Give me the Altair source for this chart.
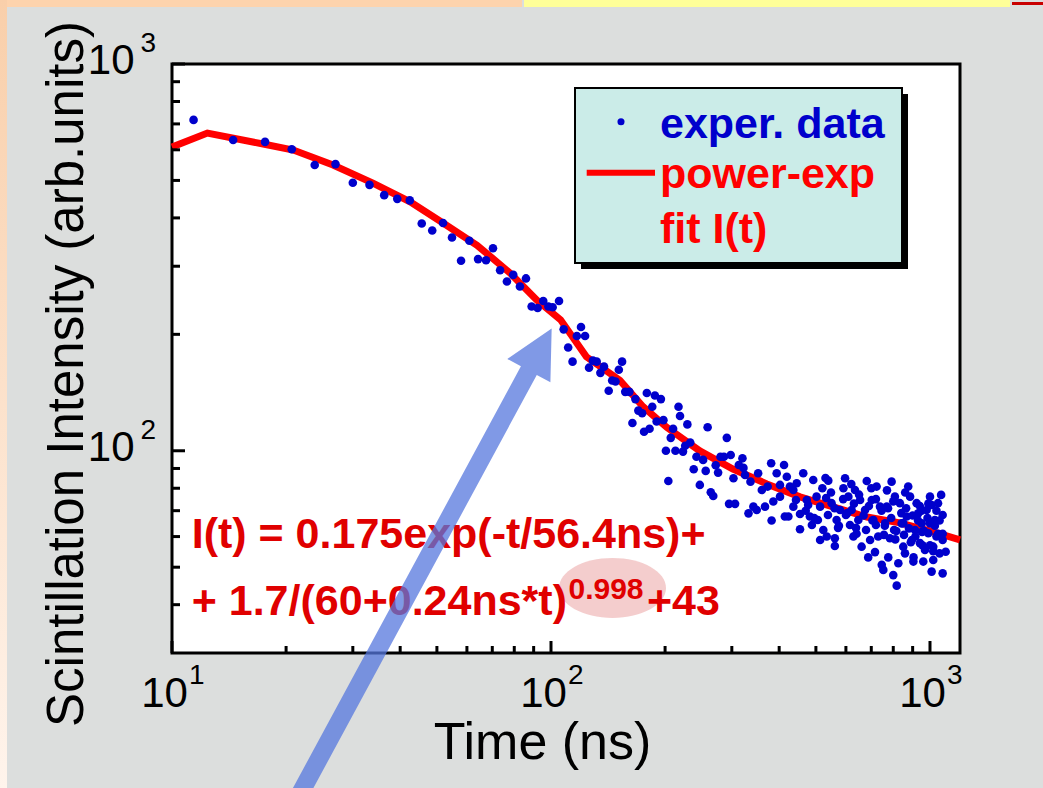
import altair as alt
import pandas as pd

FONT = "Arial, Liberation Sans, sans-serif"

# ---- experimental data: time (ns) and scintillation intensity (arb. units)
TIME = [11.4,14.5,17.6,20.7,23.8,27,30,33.2,36.3,39.3,
        42.4,45.6,48.6,51.9,54.8,57.9,60.9,64.2,67.4,70.3,
        73.4,76.5,79.5,82.8,85.9,88.9,92.2,95.4,98.4,101,
        105,108,111,114,117,120,123,126,129,132,
        135,138,142,145,148,151,154,157,161,164,
        167,170,174,176,179,182,185,188,190,195,
        198,201,204,207,210,213,
        217,219,223,226,229,233,238,242,247,252,
        256,259,264,268,272,276,280,286,291,295,
        298,303,306,313,320,325,332,336,342,349,
        352,360,367,373,381,386,394,402,412,419,
        427,436,445,322,382,414,423,402,436,454,
        454,463,473,482,492,502,513,513,523,534,
        539,550,561,561,567,579,591,597,609,621,
        628,634,647,654,660,674,681,687,702,709,
        716,723,738,746,753,761,769,776,784,792,
        800,808,817,825,833,842,850,859,868,876,
        886,904,913,922,931,941,951,960,970,980,
        990,1000,1010,1020,1030,1040,1050,1060,1070,1080,
        1100,1080,1020,1000,477,506,538,572,600,638,
        678,720,756,804,854,896,953,1010,1080,695,
        615,532,488,443,
        520,548,560,590,605,630,650,668,690,705,
        720,745,760,775,790,800,815,840,850,865,
        880,900,915,930,950,965,985,1000,1030,1050,
        470,495,530,575,620,640,700,730,770,810,
        860,890,940,990,1040,1060,1080,1020,955,905]
INTENSITY = [717,636,629,602,548,551,493,487,458,448,
             444,387,371,388,356,310,349,313,311,334,
             293,274,285,266,279,236,234,244,236,235,
             244,206,185,170,198,209,198,164,171,170,
             159,165,143,152,151,162,170,142,142,118,
             136,127,125,112,141,114,130,139,119,136,
             120,100,83.5,108,114,100,130,123,99.5,103,
             117,105,89.6,96.5,81.6,94.7,88.7,115,
             78.1,76.4,91.7,87.8,96.5,96.5,108,72.9,97.5,84.9,
             72.9,91.9,95.6,86.6,68.9,83.2,71.7,70.3,87.5,79.2,
             71.7,80.8,92.8,73.9,87.5,81.6,91.9,85.7,80.8,71.7,
             82.4,90.3,66,67.6,67.6,76.1,79.2,68.6,62.7,87.5,
             74.6,67.6,84,76.1,71.7,58.8,62.4,60,83.7,73.2,
             59.4,56.7,66.2,70.3,80,84.9,76.1,70.3,60,79.2,
             66.2,74.6,56.5,70.3,83.5,53,74.6,66.2,54.7,80.8,
             71.7,50.7,49.2,64.9,71.7,53,59.4,83.2,47.7,76.1,
             44.8,51.2,73.2,64.9,56.5,54.3,67.6,80.8,76.1,51.7,
             62.4,73.2,68.9,57.7,64.9,51.7,55.4,70.3,61.2,76.1,
             48.7,56.5,66.2,60,73.2,54.3,76.9,48.2,54.8,58.8,
             52.2,64.9,72.4,66.2,68.2,63.2,68.2,63.2,62.4,64.3,
             60.6,62.4,60.6,58.8,61.7,72.4,68.2,58.8,64.3,75.5,
             64.3,74.6,
             80,78,71,75,69,73,77,68,72,66,
             75,70,64,71,67,74,62,69,65,71,
             63,68,60,66,70,62,67,57,64,61,
             70,67,85,64,82,61,80,60,79,59,
             78,58,72,73,70,66,61,55,57,53]

# ---- power-exp fit curve I(t)
FIT_TIME = [10,12.4,17.4,20.9,26.6,33.9,42.5,51.9,63.8,78,91.8,106,124,152,175,202,247,302,371,454,555,682,833,1020,1200]
FIT_I = [610,663,621,599,548,492,440,388,340,288,245,218,175,152,130,115,99.9,89.7,82.1,76,71.6,67.4,65.1,61.7,58.8]

# ---- axis ticks: labels are "10" with a superscript exponent
X_MAJOR = [10, 100, 1000]
X_SUPS = ["1", "2", "3"]
X_MINOR = [20, 30, 40, 50, 60, 70, 80, 90, 200, 300, 400, 500, 600, 700, 800, 900]
Y_MAJOR = [100, 1000]
Y_SUPS = ["2", "3"]
Y_MINOR = [40, 50, 60, 70, 80, 90, 200, 300, 400, 500, 600, 700, 800, 900]

W, H = 788, 589

xs = alt.Scale(type="log", domain=[10, 1200], nice=False)
ys = alt.Scale(type="log", domain=[30, 1000], nice=False)

pts = pd.DataFrame({"t": TIME, "I": INTENSITY})
fit = pd.DataFrame({"t": FIT_TIME, "I": FIT_I})
one = pd.DataFrame({"k": [0]})

x_axis = alt.Axis(values=X_MAJOR, labelExpr="'10'", title="Time (ns)",
                  grid=False, domain=False, ticks=False, tickSize=0, labelFont=FONT, labelFontSize=42,
                  labelColor="black", labelBaseline="alphabetic", labelPadding=53.5, labelOffset=-8,
                  labelFlush=False, labelOverlap=False, titleFont=FONT, titleFontSize=52,
                  titleFontWeight="normal", titleColor="black", titleX=370, titleY=105,
                  titleAlign="center", titleBaseline="alphabetic")
y_axis = alt.Axis(values=Y_MAJOR, labelExpr="'10'",
                  title="Scintillation Intensity (arb.units)", grid=False, domain=False, ticks=False,
                  tickSize=0, labelFont=FONT, labelFontSize=42, labelColor="black", labelAlign="right",
                  labelBaseline="alphabetic", labelPadding=38, labelOffset=9.5, labelFlush=False,
                  labelOverlap=False, titleFont=FONT, titleFontSize=51, titleFontWeight="normal",
                  titleColor="black", titleAngle=270, titleX=-90, titleY=309.5, titleAlign="center",
                  titleBaseline="alphabetic")


def X(field):
    return alt.X(field, scale=xs, axis=x_axis)


def Y(field):
    return alt.Y(field, scale=ys, axis=y_axis)


fit_line = alt.Chart(fit).mark_line(color="#ff0000", strokeWidth=7).encode(x=X("t:Q"), y=Y("I:Q"))
points = alt.Chart(pts).mark_circle(size=74, color="#0000cc", opacity=1).encode(x=X("t:Q"), y=Y("I:Q"))

x_sup = alt.Chart(pd.DataFrame({"t": X_MAJOR, "sup": X_SUPS})).mark_text(
    font=FONT, fontSize=28, color="black", align="left", baseline="alphabetic", dx=17).encode(
    x=X("t:Q"), y=alt.value(H + 31), text="sup:N")
y_sup = alt.Chart(pd.DataFrame({"I": Y_MAJOR, "sup": Y_SUPS})).mark_text(
    font=FONT, fontSize=28, color="black", align="right", baseline="alphabetic", dy=-12).encode(
    y=Y("I:Q"), x=alt.value(-16), text="sup:N")


def xticks(vals, length):
    return alt.Chart(pd.DataFrame({"t": vals})).mark_rule(color="black", strokeWidth=3).encode(
        x=X("t:Q"), y=alt.value(H), y2=alt.value(H - length))


def yticks(vals, length):
    return alt.Chart(pd.DataFrame({"I": vals})).mark_rule(color="black", strokeWidth=3).encode(
        y=Y("I:Q"), x=alt.value(0), x2=alt.value(length))


def box(x1, x2, y1, y2, **kw):
    return alt.Chart(one).mark_rect(**kw).encode(
        x=alt.value(x1), x2=alt.value(x2), y=alt.value(y1), y2=alt.value(y2))


def text(s, x, y, size, color, align="left", weight="bold"):
    return alt.Chart(one).mark_text(text=s, font=FONT, fontSize=size, fontWeight=weight, color=color,
                                    align=align, baseline="alphabetic").encode(
        x=alt.value(x), y=alt.value(y))


# slide decoration strips outside the plotting frame
left_strip = box(-172, -165, -64, H + 135, color=alt.LinearGradient(
    gradient="linear", x1=0, y1=0, x2=0, y2=1,
    stops=[alt.GradientStop(offset=0, color="#f9cfaa"), alt.GradientStop(offset=1, color="#fff4ec")]))
top_peach = box(-165, 350, -64, -57, color="#fdd3ad")
top_yellow = box(352, 838, -64, -57, color="#ffff99")
top_red = box(840, 871, -62, -59, color="#c80000")

# legend
legend_shadow = box(409, 736, 30, 205, color="black")
legend_box = box(403, 730, 24, 199, fill="#cbece8", stroke="black", strokeWidth=2)
legend_dot = alt.Chart(one).mark_circle(size=50, color="#0000cc", opacity=1).encode(
    x=alt.value(449), y=alt.value(57.7))
legend_line = alt.Chart(one).mark_rule(color="#ff0000", strokeWidth=6).encode(
    x=alt.value(414.7), x2=alt.value(483), y=alt.value(108.7))
leg_t1 = text("exper. data", 488, 74.3, 43, "#0000cc")
leg_t2 = text("power-exp", 488, 124.3, 43, "#ff0000")
leg_t3 = text("fit I(t)", 488, 179.3, 43, "#ff0000")

# formula annotation
RED = "#e00000"
ellipse = alt.Chart(one).mark_point(
    shape="M-1,0A1,0.56,0,1,0,1,0A1,0.56,0,1,0,-1,0Z", filled=True, color="#e07070",
    opacity=0.35, strokeWidth=0).encode(x=alt.value(440.5), y=alt.value(524), size=alt.value(107 * 107))
f1 = text("I(t) = 0.175exp(-t/56.4ns)+", 19.7, 484, 43, RED)
f2 = text("+ 1.7/(60+0.24ns*t)", 19.7, 551, 43, RED)
f3 = text("0.998", 434, 535, 30, RED, align="center")
f4 = text("+43", 475, 551, 43, RED)

# arrow pointing at the curve
arrow = alt.Chart(one).mark_point(
    shape="M0,-1L0.0914,-0.821L0.0336,-0.821L0.0336,1L-0.0336,1L-0.0336,-0.821L-0.0914,-0.821Z",
    filled=True, color="#5577dd", opacity=0.75, strokeWidth=0, angle=28.4).encode(
    x=alt.value(252.2), y=alt.value(500.15), size=alt.value(536 * 536))

chart = alt.layer(
    left_strip, top_peach, top_yellow, top_red,
    fit_line, points, x_sup, y_sup,
    xticks(X_MINOR, 7), xticks(X_MAJOR, 12), yticks(Y_MINOR, 8), yticks(Y_MAJOR, 13),
    legend_shadow, legend_box, legend_dot, legend_line, leg_t1, leg_t2, leg_t3,
    ellipse, f1, f2, f3, f4, arrow,
).properties(
    width=W, height=H,
    autosize=alt.AutoSizeParams(type="none"),
    padding={"left": 172, "top": 64, "right": 83, "bottom": 135},
    background="#dcdedd",
).configure_view(stroke="black", strokeWidth=3, fill="white")

chart.save("out.html", embed_options={"renderer": "svg", "actions": False})
